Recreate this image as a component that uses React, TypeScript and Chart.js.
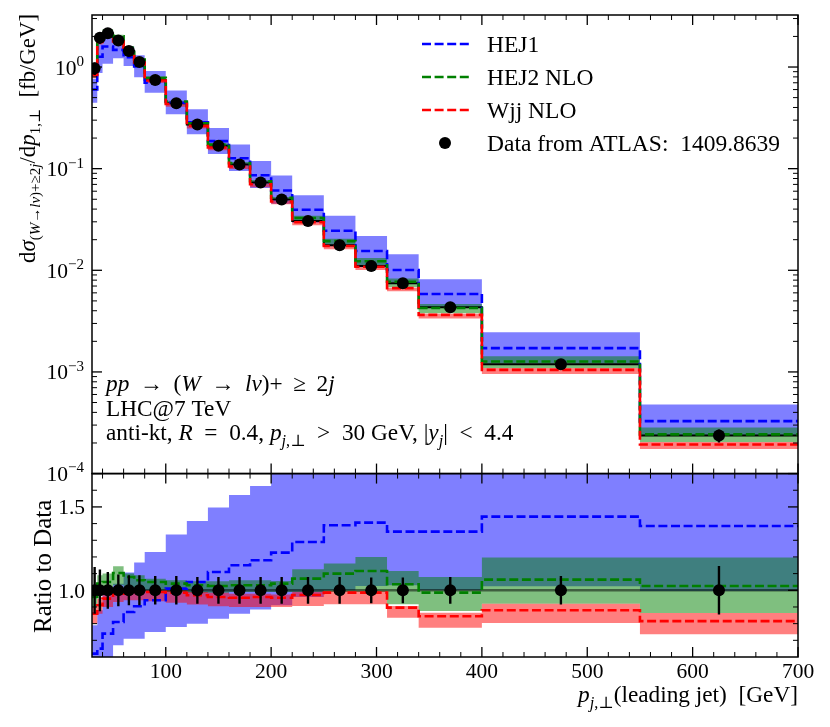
import React, { useEffect, useRef } from 'react';
import { Chart, registerables } from 'chart.js';

Chart.register(...registerables);

// ---------------- data ----------------
const binEdges = [30, 35, 40, 50, 60, 70, 80, 100, 120, 140, 160, 180, 200, 220, 250, 280, 310, 340, 400, 550, 700];
const binCentres = [32.5, 37.5, 45, 55, 65, 75, 90, 110, 130, 150, 170, 190, 210, 235, 265, 295, 325, 370, 475, 625];

// ATLAS data [fb/GeV]
const dataValues = [0.97, 1.94, 2.15, 1.82, 1.44, 1.12, 0.745, 0.44, 0.272, 0.168, 0.110, 0.0731, 0.0497, 0.0306, 0.0176, 0.0110, 0.00745, 0.00432, 0.00119, 0.000237];
const dataRelErr = [0.14, 0.125, 0.11, 0.095, 0.09, 0.09, 0.085, 0.085, 0.08, 0.08, 0.08, 0.08, 0.08, 0.08, 0.08, 0.077, 0.077, 0.08, 0.085, 0.145];

// predictions as ratio to data
const hej1Ratio = [0.62, 0.65, 0.74, 0.81, 0.87, 0.904, 0.94, 1.01, 1.05, 1.11, 1.15, 1.18, 1.226, 1.29, 1.39, 1.406, 1.352, 1.352, 1.442, 1.386];
const hej1Low = [0.46, 0.45, 0.50, 0.67, 0.71, 0.71, 0.75, 0.78, 0.80, 0.83, 0.86, 0.885, 0.91, 0.96, 1.00, 1.026, 1.03, 1.00, 1.024, 0.996];
const hej1High = [0.79, 0.88, 0.98, 1.04, 1.106, 1.166, 1.23, 1.335, 1.416, 1.496, 1.572, 1.626, 1.72, 1.79, 1.95, 1.98, 1.93, 1.89, 2.07, 2.02];

const hej2Ratio = [0.96, 1.04, 1.05, 1.104, 1.08, 1.06, 1.05, 1.04, 1.03, 1.026, 1.03, 1.03, 1.04, 1.07, 1.10, 1.116, 1.036, 0.986, 1.064, 1.026];
const hej2Low = [0.90, 0.98, 1.00, 1.03, 1.02, 1.00, 0.995, 0.99, 0.985, 0.985, 0.99, 0.99, 0.99, 0.99, 0.99, 0.99, 0.916, 0.876, 0.92, 0.864];
const hej2High = [1.02, 1.09, 1.10, 1.144, 1.10, 1.09, 1.07, 1.06, 1.055, 1.055, 1.06, 1.06, 1.056, 1.126, 1.16, 1.20, 1.116, 1.08, 1.196, 1.196];

const wjjRatio = [0.86, 0.91, 0.95, 0.98, 0.99, 0.99, 0.99, 0.985, 0.97, 0.96, 0.955, 0.96, 0.955, 0.972, 0.986, 0.986, 0.896, 0.844, 0.88, 0.815];
const wjjLow = [0.80, 0.86, 0.90, 0.93, 0.94, 0.94, 0.935, 0.925, 0.915, 0.905, 0.90, 0.90, 0.90, 0.906, 0.916, 0.916, 0.836, 0.776, 0.804, 0.736];
const wjjHigh = [0.90, 0.95, 0.98, 1.00, 1.00, 1.00, 1.00, 1.00, 0.99, 0.985, 0.98, 0.98, 0.975, 0.992, 0.995, 0.995, 0.906, 0.866, 0.92, 0.864];

// ticks
const xMajorTicks = [100, 200, 300, 400, 500, 600, 700];
const xMinorTicks = [40, 60, 80, 120, 140, 160, 180, 220, 240, 260, 280, 320, 340, 360, 380, 420, 440, 460, 480, 520, 540, 560, 580, 620, 640, 660, 680];
const logMajorExponents = [-4, -3, -2, -1, 0];
const logMinorMantissas = [2, 3, 4, 5, 6, 7, 8, 9];
const ratioMajorTicks = [1.0, 1.5];
const ratioMinorTicks = [0.7, 0.8, 0.9, 1.1, 1.2, 1.3, 1.4, 1.6];
const ratioTickLabels = ['1.0', '1.5'];

const X_MIN = 30, X_MAX = 700;
const Y_MIN = 1e-4, Y_MAX = 3.25;
const R_MIN = 0.6, R_MAX = 1.7;

const legendLabels = ['HEJ1', 'HEJ2 NLO', 'Wjj NLO', 'Data from ATLAS:  1409.8639'];

// ---------------- styling ----------------
const FAMILY = "'Liberation Serif', 'DejaVu Serif', serif";
const BLUE = '#0000ff', GREEN = '#008000', RED = '#ff0000';
const BLUE_A = 'rgba(0,0,255,0.5)', GREEN_A = 'rgba(0,128,0,0.5)', RED_A = 'rgba(255,0,0,0.5)';
const DASH = [9, 3.6];
const LW = 2.6;

type Part = { t: string; it?: boolean; sub?: boolean; sup?: boolean };

function fontFor(p: Part, size: number, scriptScale: number) {
  const s = p.sub || p.sup ? size * scriptScale : size;
  return `${p.it ? 'italic ' : ''}${s}px ${FAMILY}`;
}
function measureRich(ctx: CanvasRenderingContext2D, parts: Part[], size: number, scriptScale = 0.7) {
  let w = 0;
  for (const p of parts) {
    ctx.font = fontFor(p, size, scriptScale);
    w += ctx.measureText(p.t).width;
  }
  return w;
}
function drawRich(ctx: CanvasRenderingContext2D, x: number, y: number, parts: Part[], size: number, scriptScale = 0.7) {
  let cx = x;
  ctx.textAlign = 'left';
  ctx.textBaseline = 'alphabetic';
  for (const p of parts) {
    ctx.font = fontFor(p, size, scriptScale);
    const dy = p.sub ? size * 0.24 : p.sup ? -size * 0.4 : 0;
    ctx.fillText(p.t, cx, y + dy);
    cx += ctx.measureText(p.t).width;
  }
  return cx;
}

const TH = '\u2009';
const yTitleParts: Part[] = [
  { t: 'd' }, { t: 'σ', it: true },
  { t: '(', sub: true }, { t: 'W', it: true, sub: true }, { t: '→', sub: true }, { t: 'lν', it: true, sub: true },
  { t: ')+≥2', sub: true }, { t: 'j', it: true, sub: true },
  { t: '/d' }, { t: 'p', it: true }, { t: '1,⊥', sub: true }, { t: '  [fb/GeV]' },
];
const rTitleParts: Part[] = [{ t: 'Ratio to Data' }];
const xTitleParts: Part[] = [
  { t: 'p', it: true }, { t: 'j', it: true, sub: true }, { t: ',⊥', sub: true }, { t: '(leading jet)  [GeV]' },
];
const noteLines: Part[][] = [
  [{ t: 'pp', it: true }, { t: ` ${TH}→${TH} (` }, { t: 'W', it: true }, { t: ` ${TH}→${TH} ` }, { t: 'lν', it: true },
   { t: `)+ ${TH}≥${TH} 2` }, { t: 'j', it: true }],
  [{ t: 'LHC@7 TeV' }],
  [{ t: 'anti-kt, ' }, { t: 'R', it: true }, { t: '  =  0.4, ' }, { t: 'p', it: true }, { t: 'j', it: true, sub: true }, { t: ',⊥', sub: true },
   { t: '  >  30 GeV, |' }, { t: 'y', it: true }, { t: 'j', it: true, sub: true }, { t: '|  <  4.4' }],
];

// ---------------- helpers ----------------
const N = binCentres.length;
function steps(vals: number[]) {
  const pts = vals.map((v, i) => ({ x: binEdges[i], y: v }));
  pts.push({ x: binEdges[N], y: vals[N - 1] });
  return pts;
}
const clampR = (v: number) => Math.min(R_MAX, Math.max(R_MIN, v));
const toAbs = (ratio: number[]) => ratio.map((r, i) => r * dataValues[i]);
function errorBars(lo: number[], hi: number[]) {
  const pts: { x: number; y: number | null }[] = [];
  binCentres.forEach((x, i) => {
    pts.push({ x, y: lo[i] }, { x, y: hi[i] }, { x, y: null });
  });
  return pts;
}

function bandPair(axis: string, lo: number[], hi: number[], color: string, order: number) {
  const common = { yAxisID: axis, stepped: 'before' as const, pointRadius: 0, borderWidth: 0, order };
  return [
    { ...common, data: steps(hi), fill: '+1', backgroundColor: color, borderColor: 'transparent' },
    { ...common, data: steps(lo), fill: false, backgroundColor: 'transparent', borderColor: 'transparent' },
  ];
}
function stepLine(axis: string, vals: number[], color: string, order: number, dashed = true, width = LW) {
  return {
    yAxisID: axis, data: steps(vals), stepped: 'before' as const, pointRadius: 0, borderWidth: width,
    borderColor: color, borderDash: dashed ? DASH : [], fill: false, order,
  };
}

const TOP = 'y';
const RAT = 'yRatio';

function buildDatasets() {
  const ds: any[] = [];
  // ---- top panel ----
  ds.push(...bandPair(TOP, toAbs(hej1Low), toAbs(hej1High), BLUE_A, 30));
  ds.push(...bandPair(TOP, toAbs(hej2Low), toAbs(hej2High), GREEN_A, 29));
  ds.push(...bandPair(TOP, toAbs(wjjLow), toAbs(wjjHigh), RED_A, 28));
  ds.push(stepLine(TOP, dataValues, '#000000', 20, false, 2));
  ds.push(stepLine(TOP, toAbs(hej1Ratio), BLUE, 15));
  ds.push(stepLine(TOP, toAbs(hej2Ratio), GREEN, 14));
  ds.push(stepLine(TOP, toAbs(wjjRatio), RED, 13));
  ds.push({
    yAxisID: TOP, data: errorBars(dataValues.map((v, i) => v * (1 - dataRelErr[i])), dataValues.map((v, i) => v * (1 + dataRelErr[i]))),
    pointRadius: 0, borderWidth: 2.4, borderColor: '#000', spanGaps: false, fill: false, order: 2,
  });
  ds.push({
    yAxisID: TOP, data: binCentres.map((x, i) => ({ x, y: dataValues[i] })), showLine: false,
    pointRadius: 6, pointBackgroundColor: '#000', pointBorderWidth: 0, borderColor: '#000', order: 1,
  });
  // ---- ratio panel ----
  ds.push(...bandPair(RAT, hej1Low.map(clampR), hej1High.map(clampR), BLUE_A, 30));
  ds.push(...bandPair(RAT, hej2Low.map(clampR), hej2High.map(clampR), GREEN_A, 29));
  ds.push(...bandPair(RAT, wjjLow.map(clampR), wjjHigh.map(clampR), RED_A, 28));
  ds.push(stepLine(RAT, dataValues.map((v) => v / v), 'rgba(0,0,0,0.5)', 20, false, 2.6));
  ds.push(stepLine(RAT, hej1Ratio.map(clampR), BLUE, 15));
  ds.push(stepLine(RAT, hej2Ratio.map(clampR), GREEN, 14));
  ds.push(stepLine(RAT, wjjRatio.map(clampR), RED, 13));
  ds.push({
    yAxisID: RAT, data: errorBars(dataRelErr.map((e) => 1 - e), dataRelErr.map((e) => 1 + e)),
    pointRadius: 0, borderWidth: 2.4, borderColor: '#000', spanGaps: false, fill: false, order: 2,
  });
  ds.push({
    yAxisID: RAT, data: binCentres.map((x, i) => ({ x, y: dataValues[i] / dataValues[i] })), showLine: false,
    pointRadius: 6, pointBackgroundColor: '#000', pointBorderWidth: 0, borderColor: '#000', order: 1,
  });
  return ds;
}

// ---------------- decoration plugin ----------------
const decorPlugin = {
  id: 'decor',
  afterDraw(chart: any) {
    const ctx: CanvasRenderingContext2D = chart.ctx;
    const xs = chart.scales.x, ys = chart.scales[TOP], rs = chart.scales[RAT];
    const L = xs.left, R = xs.right;
    const panels = [
      { top: ys.top, bottom: ys.bottom },
      { top: rs.top, bottom: rs.bottom },
    ];
    ctx.save();
    ctx.strokeStyle = '#000';
    ctx.fillStyle = '#000';
    const line = (x1: number, y1: number, x2: number, y2: number, w: number) => {
      ctx.lineWidth = w;
      ctx.beginPath();
      ctx.moveTo(x1, y1);
      ctx.lineTo(x2, y2);
      ctx.stroke();
    };
    const MAJ = 10, MIN = 5;
    for (const p of panels) {
      for (const v of xMajorTicks) {
        const px = xs.getPixelForValue(v);
        line(px, p.top, px, p.top + MAJ, 1.3);
        line(px, p.bottom, px, p.bottom - MAJ, 1.3);
      }
      for (const v of xMinorTicks) {
        const px = xs.getPixelForValue(v);
        line(px, p.top, px, p.top + MIN, 1);
        line(px, p.bottom, px, p.bottom - MIN, 1);
      }
    }
    for (const e of logMajorExponents) {
      const py = ys.getPixelForValue(Math.pow(10, e));
      line(L, py, L + MAJ, py, 1.3);
      line(R, py, R - MAJ, py, 1.3);
      for (const m of logMinorMantissas) {
        const v = m * Math.pow(10, e);
        if (v > Y_MAX) continue;
        const pm = ys.getPixelForValue(v);
        line(L, pm, L + MIN, pm, 1);
        line(R, pm, R - MIN, pm, 1);
      }
    }
    for (const v of ratioMajorTicks) {
      const py = rs.getPixelForValue(v);
      line(L, py, L + MAJ, py, 1.3);
      line(R, py, R - MAJ, py, 1.3);
    }
    for (const v of ratioMinorTicks) {
      const py = rs.getPixelForValue(v);
      line(L, py, L + MIN, py, 1);
      line(R, py, R - MIN, py, 1);
    }
    ctx.lineWidth = 1.5;
    for (const p of panels) ctx.strokeRect(L, p.top, R - L, p.bottom - p.top);

    // tick labels
    const TS = 21.5;
    ctx.font = `${TS}px ${FAMILY}`;
    ctx.textAlign = 'center';
    ctx.textBaseline = 'alphabetic';
    for (const v of xMajorTicks) {
      ctx.fillText(String(v), xs.getPixelForValue(v), rs.bottom + 21);
    }
    ctx.textAlign = 'right';
    ratioMajorTicks.forEach((v, i) => {
      ctx.fillText(ratioTickLabels[i], L - 7, rs.getPixelForValue(v) + 7.5);
    });
    for (const e of logMajorExponents) {
      const py = ys.getPixelForValue(Math.pow(10, e));
      const parts: Part[] = [{ t: '10' }, { t: e === 0 ? '0' : '−' + String(-e), sup: true }];
      const w = measureRich(ctx, parts, TS);
      drawRich(ctx, L - 8 - w, py + 7.5, parts, TS);
    }

    // axis titles
    ctx.save();
    ctx.translate(35, 14);
    ctx.rotate(-Math.PI / 2);
    const wy = measureRich(ctx, yTitleParts, 22.8, 0.66);
    drawRich(ctx, -wy, 0, yTitleParts, 22.8, 0.66);
    ctx.restore();

    ctx.save();
    const rMid = (rs.top + rs.bottom) / 2 + 1;
    ctx.translate(51, rMid);
    ctx.rotate(-Math.PI / 2);
    const wr = measureRich(ctx, rTitleParts, 25);
    drawRich(ctx, -wr / 2, 0, rTitleParts, 25);
    ctx.restore();

    const wx = measureRich(ctx, xTitleParts, 23.3);
    drawRich(ctx, R - wx, 702, xTitleParts, 23.3);

    // notes
    const noteBase = [391, 416, 440];
    noteLines.forEach((parts, i) => drawRich(ctx, 106, noteBase[i], parts, 23.3));

    // legend
    const rows = [44, 77, 110, 143];
    const colors = [BLUE, GREEN, RED];
    for (let i = 0; i < 3; i++) {
      ctx.save();
      ctx.strokeStyle = colors[i];
      ctx.lineWidth = LW;
      ctx.setLineDash(DASH);
      ctx.beginPath();
      ctx.moveTo(422, rows[i]);
      ctx.lineTo(469, rows[i]);
      ctx.stroke();
      ctx.restore();
    }
    ctx.beginPath();
    ctx.arc(445, rows[3], 6, 0, Math.PI * 2);
    ctx.fill();
    legendLabels.forEach((t, i) => drawRich(ctx, 487, rows[i] + 8, [{ t }], 23.5));

    ctx.restore();
  },
};

export default function App() {
  const ref = useRef<HTMLCanvasElement>(null);
  useEffect(() => {
    const canvas = ref.current;
    if (!canvas) return;
    const hidden = { grid: { display: false }, border: { display: false }, ticks: { display: false } };
    const chart = new Chart(canvas, {
      type: 'line',
      data: { datasets: buildDatasets() },
      options: {
        animation: false,
        responsive: false,
        events: [],
        layout: { padding: { left: 0, top: 15, right: 32, bottom: 70 } },
        plugins: { legend: { display: false }, tooltip: { enabled: false } },
        scales: {
          x: {
            type: 'linear', axis: 'x', min: X_MIN, max: X_MAX, position: 'bottom', ...hidden,
            afterFit: (s: any) => { s.height = 0; },
          },
          [TOP]: {
            type: 'logarithmic', axis: 'y', min: Y_MIN, max: Y_MAX, position: 'left', stack: 'panels', stackWeight: 2.5, weight: 2,
            ...hidden, afterFit: (s: any) => { s.width = 92; },
          },
          [RAT]: {
            type: 'linear', axis: 'y', min: R_MIN, max: R_MAX, position: 'left', stack: 'panels', stackWeight: 1, weight: 1,
            ...hidden, afterFit: (s: any) => { s.width = 92; },
          },
        } as any,
      },
      plugins: [decorPlugin],
    });
    return () => chart.destroy();
  }, []);
  return (
    <div style={{ position: 'absolute', left: 0, top: 0, width: 830, height: 727, background: '#fff' }}>
      <canvas ref={ref} width={830} height={727} style={{ width: 830, height: 727, display: 'block' }} />
    </div>
  );
}
